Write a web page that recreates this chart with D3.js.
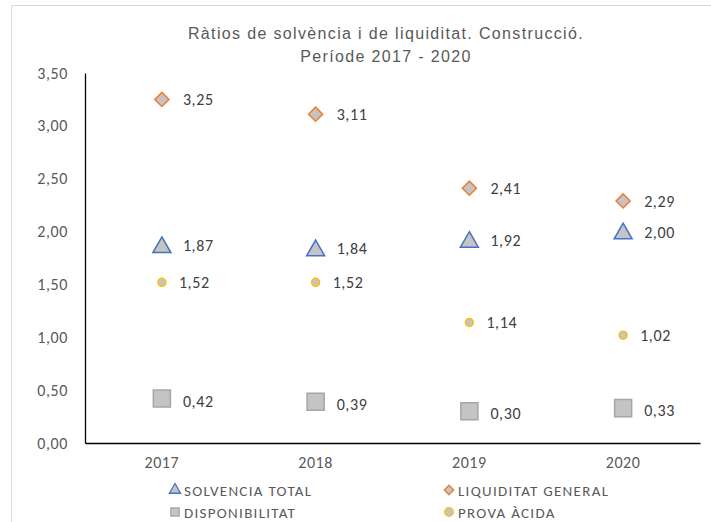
<!DOCTYPE html>
<html><head><meta charset="utf-8">
<script src="https://cdn.jsdelivr.net/npm/d3@7"></script>
<style>body{margin:0;background:#fff;} svg{display:block;}</style>
</head><body>
<svg id="c" width="711" height="522"></svg>
<script>
const years = ["2017","2018","2019","2020"];
const solvencia = [1.87, 1.84, 1.92, 2.00];
const liquiditat = [3.25, 3.11, 2.41, 2.29];
const disponibilitat = [0.42, 0.39, 0.30, 0.33];
const provaAcida = [1.52, 1.52, 1.14, 1.02];
const yTicks = [0, 0.5, 1, 1.5, 2, 2.5, 3, 3.5];
const titleLines = ["Ràtios de solvència i de liquiditat. Construcció.", "Període 2017 - 2020"];

const series = [
  {name:"SOLVENCIA TOTAL", values:solvencia, shape:"tri"},
  {name:"LIQUIDITAT GENERAL", values:liquiditat, shape:"dia"},
  {name:"DISPONIBILITAT", values:disponibilitat, shape:"sq"},
  {name:"PROVA ÀCIDA", values:provaAcida, shape:"cir"}
];

const svg = d3.select("#c");
const fmt = v => d3.format(".2f")(v).replace(".", ",");
const font = "Carlito, Calibri, 'Open Sans', sans-serif";

// outer border
svg.append("path").attr("d","M11.5,522 V5.5 H711").attr("fill","none").attr("stroke","#d9d9d9").attr("stroke-width",1);

const x = d3.scaleBand().domain(years).range([85, 700]);
const y = d3.scaleLinear().domain([0, 3.5]).range([443, 73]);

// title
svg.append("g").selectAll("text").data(titleLines).join("text")
  .attr("x", 386).attr("y",(d,i)=>39+i*23)
  .attr("text-anchor","middle").attr("font-family","'Liberation Sans', Arial, sans-serif")
  .attr("font-size",16).attr("letter-spacing","1.35px").attr("fill","#595959").text(d=>d);

// axes
const yAxis = svg.append("g").attr("transform","translate(85,0)")
  .call(d3.axisLeft(y).tickValues(yTicks).tickFormat(fmt).tickSize(0).tickPadding(17));
yAxis.select(".domain").attr("stroke","#000").attr("stroke-width",1.3);
yAxis.selectAll("text").attr("font-family",font).attr("font-size",16).attr("letter-spacing","0.6px").attr("fill","#595959");

const xAxis = svg.append("g").attr("transform","translate(0,443)")
  .call(d3.axisBottom(x).tickSize(0).tickPadding(14));
xAxis.select(".domain").attr("stroke","#000").attr("stroke-width",1.3);
xAxis.selectAll("text").attr("font-family",font).attr("font-size",16).attr("letter-spacing","0.6px").attr("fill","#595959");

const sym = {
  tri: {type:d3.symbolTriangle, size:140, stroke:"#4472c4", fill:"#c4c4c4", dy:2, rot:0},
  dia: {type:d3.symbolSquare, size:100, stroke:"#ed7d31", fill:"#c4c4c4", dy:0, rot:45},
  sq:  {type:d3.symbolSquare, size:290, stroke:"#a6a6a6", fill:"#c4c4c4", dy:0, rot:0},
  cir: {type:d3.symbolCircle, size:50, stroke:"#ffc000", fill:"#c4c4c4", dy:0, rot:0}
};
const labelDx = {tri:21, dia:21, sq:21, cir:17};

series.forEach(s => {
  const st = sym[s.shape];
  const g = svg.append("g");
  g.selectAll("path").data(s.values).join("path")
    .attr("transform",(d,i)=>`translate(${x(years[i])+x.bandwidth()/2},${y(d)+st.dy}) rotate(${st.rot})`)
    .attr("d", d3.symbol(st.type, st.size))
    .attr("fill", st.fill).attr("stroke", st.stroke).attr("stroke-width", 1.5);
  g.selectAll("text").data(s.values).join("text")
    .attr("x",(d,i)=>x(years[i])+x.bandwidth()/2+labelDx[s.shape])
    .attr("y",(d,i)=>y(d)+6 + (s.shape==="sq"?2:0))
    .attr("font-family",font).attr("font-size",16).attr("letter-spacing","0.6px").attr("fill","#404040")
    .text(d=>fmt(d));
});

// legend
const legPos = [[175,490],[449,490],[175,512],[449,512]];
const legSize = {tri:55, dia:45, sq:70, cir:60};
series.forEach((s,i) => {
  const st = sym[s.shape];
  const [lx,ly] = legPos[i];
  svg.append("path").attr("transform",`translate(${lx},${ly}) rotate(${st.rot})`)
    .attr("d", d3.symbol(st.type, legSize[s.shape]))
    .attr("fill", st.fill).attr("stroke", st.stroke).attr("stroke-width", 1.3);
  svg.append("text").attr("x", lx+9).attr("y", ly+5.5)
    .attr("font-family",font).attr("font-size",15).attr("letter-spacing","1.3px").attr("fill","#595959").text(s.name);
});
</script>
</body></html>
